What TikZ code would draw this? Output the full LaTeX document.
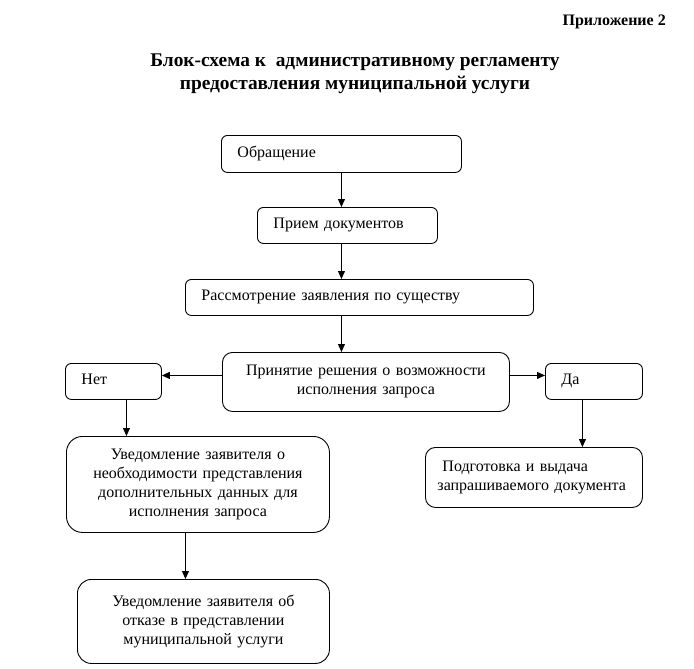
\documentclass[tikz,border=0pt]{standalone}
\usepackage{fontspec}
\setmainfont{Liberation Serif}
\usetikzlibrary{arrows.meta}
\begin{document}
\begin{tikzpicture}[x=1pt,y=-1pt,
  box/.style={draw, line width=0.9pt, anchor=north west, inner ysep=0pt,
    font=\fontsize{16}{19}\selectfont},
  lbox/.style={box, align=left, inner xsep=16pt, text height=11pt, text depth=4pt},
  cbox/.style={box, align=center, inner xsep=4pt},
  arr/.style={-{Triangle[length=8pt,width=7pt]}, line width=0.9pt},
  ttl/.style={font=\bfseries\fontsize{19.4}{23}\selectfont, align=center},
  appx/.style={font=\bfseries\fontsize{16}{19}\selectfont, anchor=east, inner sep=0pt}
]
\useasboundingbox (0,0) rectangle (694,669);
\node[appx] (app) at (666,22) {Приложение 2};
\node[ttl] (title) at (355,74) {Блок-схема к\ \ административному регламенту\\предоставления муниципальной услуги};

\node[lbox, text width=208pt, minimum height=37pt, rounded corners=6pt] (n1) at (221,135) {Обращение};
\node[lbox, text width=148pt, minimum height=36pt, rounded corners=6pt] (n2) at (257,207) {Прием документов};
\node[lbox, text width=316pt, minimum height=36pt, rounded corners=6pt] (n3) at (185,279) {Рассмотрение заявления по существу};
\node[cbox, text width=279pt, minimum height=59pt, rounded corners=10pt] (n4) at (222,352) {Принятие решения о возможности\\исполнения запроса};
\node[lbox, text width=64pt, minimum height=36pt, rounded corners=6pt] (no) at (65,363) {Нет};
\node[lbox, text width=65pt, minimum height=36pt, rounded corners=6pt] (yes) at (545,363) {Да};
\node[cbox, text width=255pt, minimum height=96pt, rounded corners=16pt] (u1) at (66,436) {Уведомление заявителя о\\необходимости представления\\дополнительных данных для\\исполнения запроса};
\node[box, align=left, inner xsep=12pt, text width=193pt, minimum height=60pt, rounded corners=10pt] (pod) at (425,447) {\hspace{5pt}Подготовка и выдача\\запрашиваемого документа};
\node[cbox, text width=244pt, minimum height=84pt, rounded corners=14pt] (otk) at (77,579) {Уведомление заявителя об\\отказе в представлении\\муниципальной услуги};

\draw[arr] (n1.south) -- (n1.south |- n2.north);
\draw[arr] (n2.south -| n1.south) -- (n1.south |- n3.north);
\draw[arr] (n3.south -| n1.south) -- (n1.south |- n4.north);
\draw[arr] ([yshift=6.5pt]n4.west) -- ([yshift=6.5pt]n4.west -| no.east);
\draw[arr] ([yshift=6.5pt]n4.east) -- ([yshift=6.5pt]n4.east -| yes.west);
\draw[arr] ([xshift=13pt]no.south) -- ([xshift=13pt]no.south |- u1.north);
\draw[arr] ([xshift=-11.5pt]yes.south) -- ([xshift=-11.5pt]yes.south |- pod.north);
\draw[arr] ([xshift=-12.5pt]u1.south) -- ([xshift=-12.5pt]u1.south |- otk.north);
\end{tikzpicture}
\end{document}
